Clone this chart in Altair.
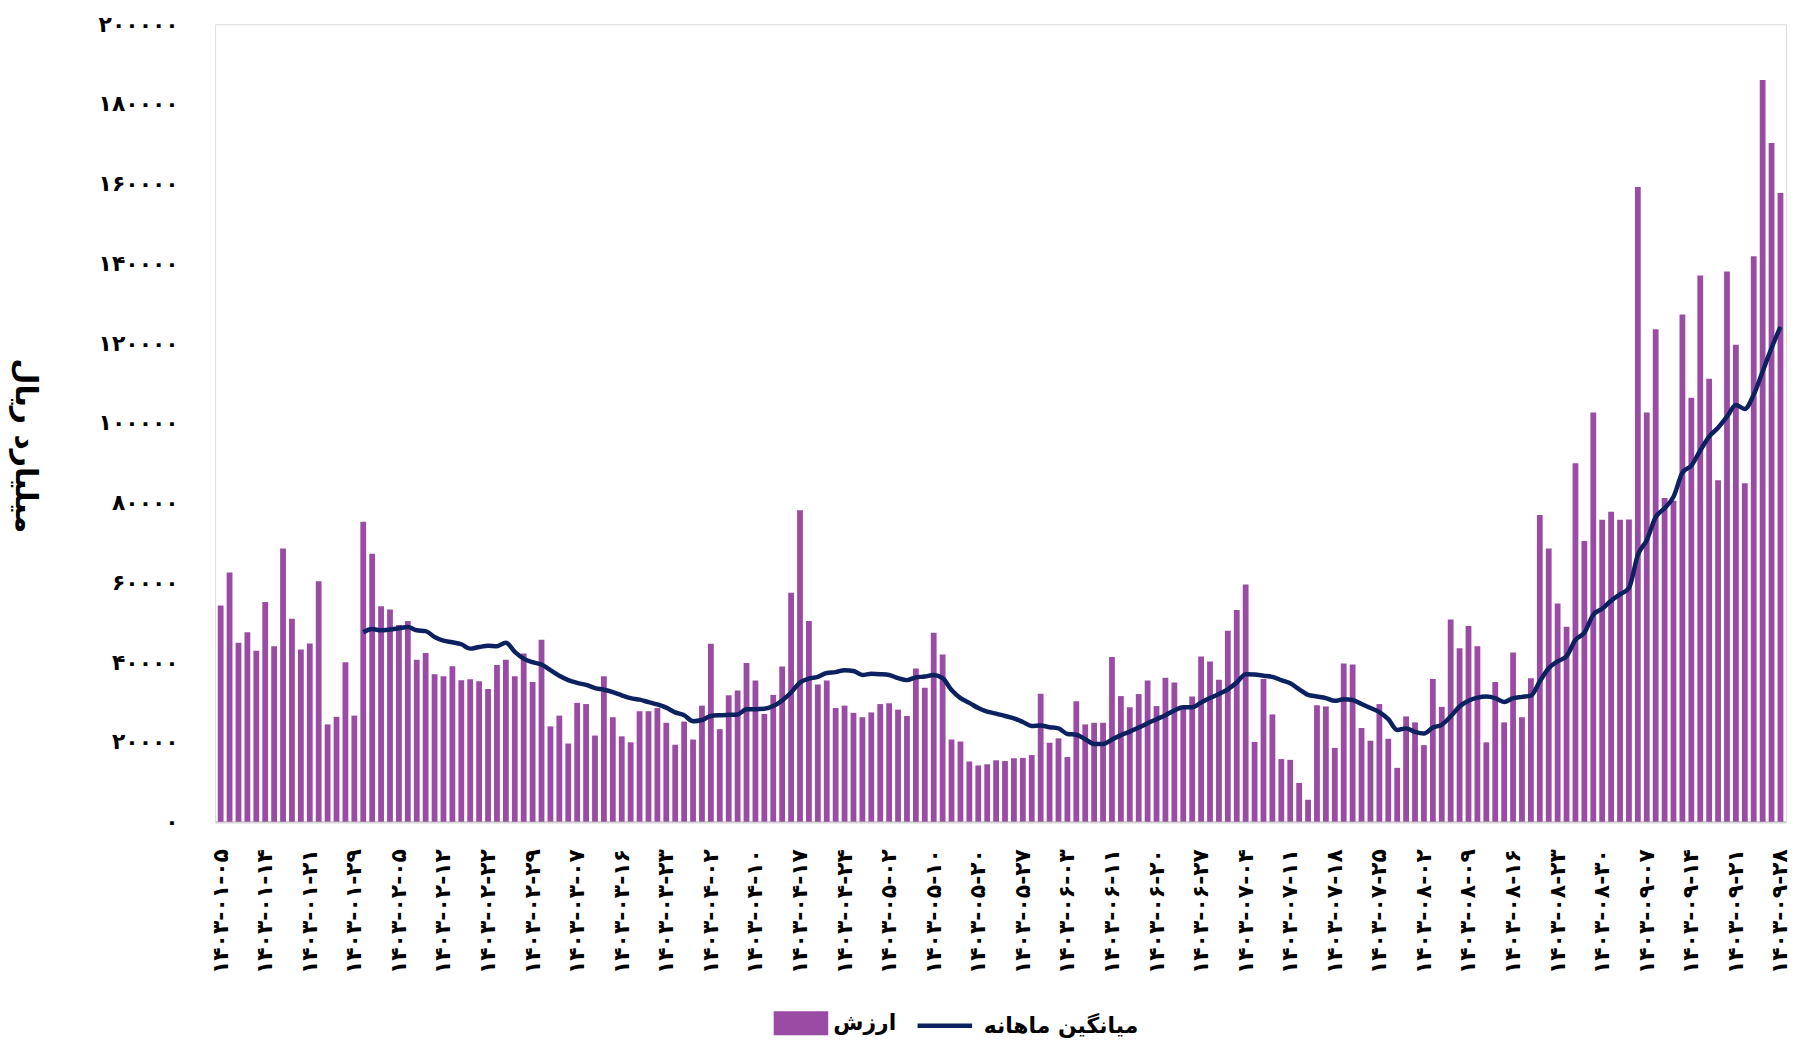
import altair as alt
import pandas as pd

FA = str.maketrans("0123456789", "۰۱۲۳۴۵۶۷۸۹")

# x tick labels (every 5th trading day)
tick_dates = [
    "1403-01-05", "1403-01-14", "1403-01-21", "1403-01-29", "1403-02-05", "1403-02-12",
    "1403-02-22", "1403-02-29", "1403-03-07", "1403-03-16", "1403-03-23", "1403-04-02",
    "1403-04-10", "1403-04-17", "1403-04-24", "1403-05-02", "1403-05-10", "1403-05-20",
    "1403-05-27", "1403-06-03", "1403-06-11", "1403-06-20", "1403-06-27", "1403-07-04",
    "1403-07-11", "1403-07-18", "1403-07-25", "1403-08-02", "1403-08-09", "1403-08-16",
    "1403-08-23", "1403-08-30", "1403-09-07", "1403-09-14", "1403-09-21", "1403-09-28",
]
tick_step = 5

# daily value (thousand billion rial)
values_k = [
    54.2, 62.5, 44.9, 47.5, 42.9, 55.1, 44.0, 68.5, 50.9, 43.2,
    44.7, 60.3, 24.4, 26.3, 40.0, 26.6, 75.2, 67.2, 54.0, 53.2,
    49.3, 50.3, 40.6, 42.3, 37.0, 36.5, 39.0, 35.5, 35.7, 35.2,
    33.3, 39.3, 40.6, 36.5, 42.2, 35.0, 45.6, 23.9, 26.6, 19.6,
    29.8, 29.5, 21.6, 36.5, 26.2, 21.4, 19.9, 27.7, 27.7, 28.5,
    24.8, 19.3, 25.1, 20.6, 29.1, 44.6, 23.2, 31.7, 32.9, 39.8,
    35.4, 27.0, 31.8, 38.9, 57.4, 78.1, 50.3, 34.4, 35.4, 28.5,
    29.1, 27.3, 26.2, 27.4, 29.5, 29.7, 28.1, 26.5, 38.4, 33.6,
    47.4, 41.9, 20.6, 20.1, 15.1, 14.1, 14.4, 15.4, 15.2, 15.9,
    16.0, 16.7, 32.1, 19.8, 20.9, 16.2, 30.2, 24.4, 24.8, 24.8,
    41.3, 31.5, 28.7, 32.0, 35.4, 29.0, 36.1, 34.9, 29.0, 31.4,
    41.4, 40.2, 35.6, 47.9, 53.1, 59.5, 20.0, 35.8, 26.9, 15.7,
    15.5, 9.7, 5.5, 29.2, 28.9, 18.5, 39.7, 39.4, 23.5, 20.3,
    29.5, 20.8, 13.5, 26.4, 24.9, 19.2, 35.8, 28.8, 50.7, 43.5,
    49.1, 44.0, 19.9, 35.0, 24.9, 42.4, 26.2, 36.0, 76.9, 68.5,
    54.7, 48.9, 89.9, 70.4, 102.6, 75.7, 77.7, 75.7, 75.8, 159.2,
    102.6, 123.5, 81.2, 80.5, 127.2, 106.3, 137.0, 111.1, 85.6, 138.0,
    119.6, 84.9, 141.8, 186.0, 170.2, 157.7,
]

# monthly average, starting at day index 16
avg_start = 16
avg_k = [
    47.5, 48.3, 48.0, 48.2, 48.5, 48.8, 48.0, 47.8, 46.3, 45.4,
    45.0, 44.5, 43.4, 43.8, 44.1, 44.0, 44.9, 42.6, 40.9, 40.0,
    39.4, 38.0, 36.6, 35.5, 34.8, 34.3, 33.5, 33.1, 32.5, 31.7,
    31.0, 30.6, 30.0, 29.4, 28.6, 27.4, 26.7, 25.2, 25.5, 26.5,
    26.7, 26.8, 26.9, 28.2, 28.2, 28.3, 29.0, 30.4, 32.4, 34.9,
    35.9, 36.3, 37.3, 37.5, 38.0, 37.8, 36.8, 37.1, 37.0, 36.8,
    36.0, 35.5, 36.2, 36.4, 36.8, 36.0, 33.0, 31.0, 29.8, 28.5,
    27.6, 27.1, 26.5, 25.9, 25.0, 24.0, 24.1, 23.7, 23.4, 22.0,
    21.8, 20.7, 19.5, 19.5, 20.6, 21.7, 22.6, 23.6, 24.7, 25.7,
    26.7, 27.9, 28.7, 28.7, 29.9, 31.0, 32.0, 33.2, 34.9, 37.0,
    36.9, 36.6, 36.3, 35.5, 34.7, 33.2, 31.8, 31.4, 31.0, 30.3,
    30.7, 30.5, 29.5, 28.5, 27.5, 25.7, 23.0, 23.4, 22.5, 22.1,
    23.6, 24.3, 26.4, 28.9, 30.3, 31.1, 31.4, 31.0, 30.0, 31.0,
    31.3, 31.6, 35.2, 38.5, 40.2, 41.5, 45.6, 47.4, 51.9, 53.4,
    55.4, 57.0, 58.6, 66.9, 70.6, 76.4, 78.6, 81.5, 87.5, 89.3,
    93.1, 96.6, 98.8, 101.6, 104.5, 103.5, 107.1, 112.9, 118.8, 124.1,
]

y_ticks = [0, 20000, 40000, 60000, 80000, 100000, 120000, 140000, 160000, 180000, 200000]

series_bar = "ارزش"
series_line = "میانگین ماهانه"
y_title = "میلیارد ریال"

BAR_COLOR = "#9a4ca5"
LINE_COLOR = "#0b2160"
FONT = "DejaVu Sans"

bars_df = pd.DataFrame({
    "i": list(range(len(values_k))),
    "v": [v * 1000 for v in values_k],
    "s": series_bar,
})
line_df = pd.DataFrame({
    "i": list(range(avg_start, avg_start + len(avg_k))),
    "v": [v * 1000 for v in avg_k],
    "s": series_line,
})

x_labels = [d.translate(FA) for d in tick_dates]
x_expr = "[" + ",".join("'%s'" % l for l in x_labels) + "][round(datum.value / %d)]" % tick_step
y_labels = [str(t).translate(FA) for t in y_ticks]
y_expr = "[" + ",".join("'%s'" % l for l in y_labels) + "][round(datum.value / 20000)]"


def x_enc():
    return alt.X(
        "i:O",
        scale=alt.Scale(paddingInner=0.35, paddingOuter=0.3),
        axis=alt.Axis(
            values=list(range(0, len(values_k), tick_step)),
            labelExpr=x_expr,
            labelAngle=-90,
            labelFont=FONT,
            labelFontSize=22,
            labelFontWeight="bold",
            labelColor="#000000",
            labelPadding=27,
            ticks=False,
            domain=True,
            domainColor="#d3d3d3",
            domainWidth=2.5,
            grid=False,
            gridOpacity=0,
            title=None,
        ),
    )


def y_enc():
    return alt.Y(
        "v:Q",
        scale=alt.Scale(domain=[0, 200000], nice=False),
        axis=alt.Axis(
            values=y_ticks,
            labelExpr=y_expr,
            labelFont=FONT,
            labelFontSize=22,
            labelFontWeight="bold",
            labelColor="#000000",
            labelPadding=37,
            grid=False,
            gridOpacity=0,
            domain=False,
            domainColor="#ffffff",
            domainOpacity=0,
            ticks=False,
            tickOpacity=0,
            title=y_title,
            titleAngle=90,
            titleFont=FONT,
            titleFontSize=30,
            titleFontWeight="bold",
            titleColor="#000000",
            titleX=-191,
            titleY=423,
            titleAlign="center",
            titleBaseline="middle",
        ),
    )


legend_common = dict(
    title=None,
    orient="none",
    padding=0,
    symbolSize=3000,
    labelFont=FONT,
    labelFontSize=22,
    labelFontWeight="bold",
    labelColor="#000000",
    labelLimit=400,
    legendY=976,
)

bars = alt.Chart(bars_df).mark_bar().encode(
    x=x_enc(),
    y=y_enc(),
    color=alt.Color(
        "s:N",
        scale=alt.Scale(domain=[series_bar], range=[BAR_COLOR]),
        legend=alt.Legend(
            symbolType="M-1,-0.44H1V0.44H-1Z",
            symbolStrokeWidth=0,
            labelOffset=5,
            legendX=561,
            **legend_common,
        ),
    ),
)

line = alt.Chart(line_df).mark_line(strokeWidth=4.5, interpolate="monotone").encode(
    x=x_enc(),
    y=y_enc(),
    stroke=alt.Stroke(
        "s:N",
        scale=alt.Scale(domain=[series_line], range=[LINE_COLOR]),
        legend=alt.Legend(
            symbolType="stroke",
            symbolStrokeWidth=4.5,
            labelOffset=9,
            legendX=703,
            **legend_common,
        ),
    ),
)

chart = (
    alt.layer(bars, line)
    .properties(
        width=1578,
        height=801,
        autosize=alt.AutoSizeParams(type="none"),
        padding={"left": 208, "top": 14, "right": 8, "bottom": 220},
    )
    .configure_view(stroke="#ffffff", strokeWidth=0, strokeOpacity=0)
    .configure_axis(grid=False, domain=False, ticks=False)
    .configure_axisX(domain=True, domainColor="#d3d3d3", domainWidth=2.5)
    .configure(background="#ffffff")
)

chart.save("out.html", embed_options={"renderer": "svg", "actions": False})
